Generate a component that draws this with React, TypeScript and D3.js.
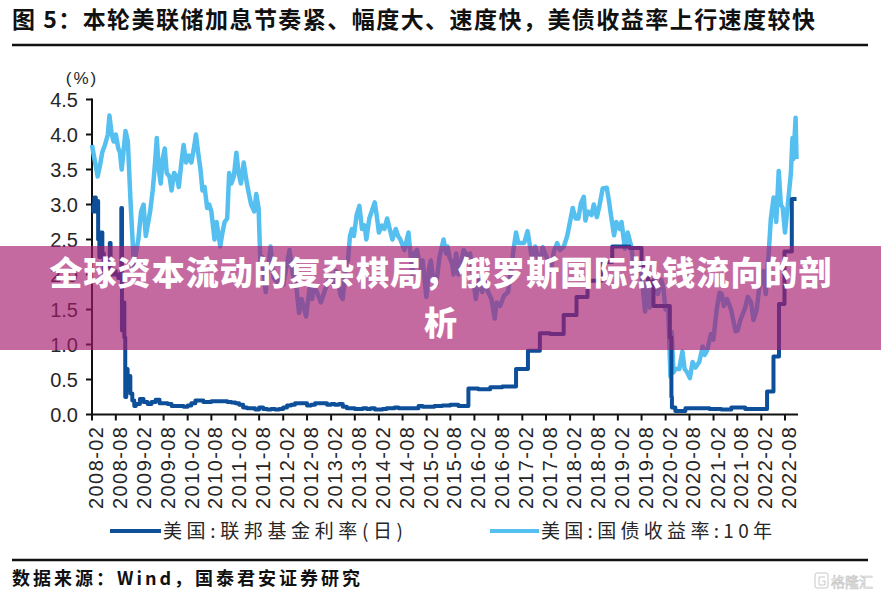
import React from "react";
import * as d3 from "d3";

const W = 881;
const H = 596;

const titleText = "图 5：本轮美联储加息节奏紧、幅度大、速度快，美债收益率上行速度较快";
const sourceText = "数据来源：Wind，国泰君安证券研究";
const bannerLine1 = "全球资本流动的复杂棋局，俄罗斯国际热钱流向的剖";
const bannerLine2 = "析";
const seriesNames = ["美国:联邦基金利率(日)", "美国:国债收益率:10年"];
const yTicks = [0, 0.5, 1, 1.5, 2, 2.5, 3, 3.5, 4, 4.5];
const xTickLabels = [
  "2008-02", "2008-08", "2009-02", "2009-08", "2010-02", "2010-08",
  "2011-02", "2011-08", "2012-02", "2012-08", "2013-02", "2013-08",
  "2014-02", "2014-08", "2015-02", "2015-08", "2016-02", "2016-08",
  "2017-02", "2017-08", "2018-02", "2018-08", "2019-02", "2019-08",
  "2020-02", "2020-08", "2021-02", "2021-08", "2022-02", "2022-08",
];

// Fed funds (daily effective), change points
const fedEarlyDates = [
  "2008-02-01", "2008-02-12", "2008-02-20", "2008-03-01", "2008-03-10", "2008-03-19",
  "2008-03-28", "2008-04-08", "2008-04-20", "2008-05-01", "2008-05-20", "2008-06-05",
  "2008-06-16", "2008-06-22", "2008-07-15", "2008-08-01", "2008-08-20", "2008-09-01",
  "2008-09-12", "2008-09-17", "2008-09-25", "2008-10-05", "2008-10-12", "2008-10-20",
  "2008-10-30", "2008-11-10", "2008-11-20", "2008-12-05", "2008-12-20",
];
const fedEarlyRates = [
  3.0, 2.9, 3.1, 2.9, 3.05, 2.5,
  2.25, 2.6, 2.3, 2.0, 2.1, 2.0,
  2.45, 2.0, 2.05, 2.0, 1.95, 2.0,
  2.95, 1.2, 1.6, 1.1, 0.25, 0.65,
  0.35, 0.55, 0.3, 0.2, 0.12,
];
const fedLowStart = "2009-01-01";
const fedLowRates = [
  0.15, 0.22, 0.18, 0.15, 0.18, 0.21, 0.16, 0.16, 0.15, 0.12, 0.12, 0.12,
  0.11, 0.13, 0.16, 0.2, 0.2, 0.18, 0.18, 0.19, 0.19, 0.19, 0.19, 0.18,
  0.17, 0.16, 0.14, 0.1, 0.09, 0.09, 0.07, 0.1, 0.08, 0.07, 0.08, 0.07,
  0.08, 0.1, 0.13, 0.14, 0.16, 0.16, 0.16, 0.13, 0.14, 0.16, 0.16, 0.16,
  0.14, 0.15, 0.14, 0.15, 0.11, 0.09, 0.09, 0.08, 0.08, 0.09, 0.08, 0.09,
  0.07, 0.07, 0.08, 0.09, 0.09, 0.1, 0.09, 0.09, 0.09, 0.09, 0.09, 0.12,
  0.11, 0.11, 0.11, 0.12, 0.12, 0.13, 0.13, 0.14, 0.14, 0.12, 0.12,
];
const fedLateDates = [
  "2015-12-17", "2016-03-01", "2016-06-01", "2016-09-01", "2016-12-15", "2017-03-16",
  "2017-06-15", "2017-09-01", "2017-12-14", "2018-03-22", "2018-06-14", "2018-09-27",
  "2018-12-20", "2019-05-01", "2019-08-01", "2019-09-19", "2019-10-31", "2020-03-04",
  "2020-03-16", "2020-03-20", "2020-04-15", "2020-07-01", "2020-10-01", "2021-01-01",
  "2021-04-01", "2021-06-17", "2021-10-01", "2022-01-01", "2022-03-17", "2022-05-05",
  "2022-06-16", "2022-07-28", "2022-09-22", "2022-10-28",
];
const fedLateRates = [
  0.37, 0.36, 0.39, 0.4, 0.65, 0.91,
  1.16, 1.15, 1.42, 1.68, 1.91, 2.18,
  2.4, 2.38, 2.13, 1.9, 1.55, 1.1,
  0.25, 0.1, 0.05, 0.09, 0.09, 0.08,
  0.07, 0.1, 0.08, 0.08, 0.33, 0.83,
  1.58, 2.33, 3.08, 3.08,
];

// 10-year Treasury yield
const ustDates = [
  "2008-02-01", "2008-02-15", "2008-03-01", "2008-03-15", "2008-04-01", "2008-04-20", "2008-05-10", "2008-06-01", "2008-06-13", "2008-07-01",
  "2008-07-15", "2008-08-01", "2008-08-20", "2008-09-01", "2008-09-15", "2008-10-01", "2008-10-14", "2008-11-01", "2008-11-20", "2008-12-01",
  "2008-12-18", "2009-01-01", "2009-01-20", "2009-02-10", "2009-03-01", "2009-03-18", "2009-04-01", "2009-04-20", "2009-05-10", "2009-05-28",
  "2009-06-10", "2009-06-25", "2009-07-10", "2009-07-25", "2009-08-10", "2009-08-25", "2009-09-15", "2009-10-01", "2009-10-20", "2009-11-10",
  "2009-11-25", "2009-12-15", "2010-01-01", "2010-01-20", "2010-02-10", "2010-03-01", "2010-03-25", "2010-04-05", "2010-04-25", "2010-05-10",
  "2010-05-25", "2010-06-10", "2010-06-30", "2010-07-15", "2010-08-01", "2010-08-25", "2010-09-10", "2010-09-30", "2010-10-08", "2010-10-25",
  "2010-11-10", "2010-11-30", "2010-12-15", "2011-01-01", "2011-01-20", "2011-02-08", "2011-02-25", "2011-03-15", "2011-04-05", "2011-04-25",
  "2011-05-15", "2011-06-01", "2011-06-25", "2011-07-10", "2011-07-28", "2011-08-10", "2011-08-25", "2011-09-20", "2011-10-10", "2011-10-27",
  "2011-11-20", "2011-12-15", "2012-01-10", "2012-02-01", "2012-03-20", "2012-04-15", "2012-05-10", "2012-06-01", "2012-06-20", "2012-07-25",
  "2012-08-20", "2012-09-10", "2012-09-20", "2012-10-15", "2012-11-15", "2012-12-20", "2013-01-10", "2013-02-01", "2013-02-25", "2013-03-10",
  "2013-04-15", "2013-05-01", "2013-05-25", "2013-06-10", "2013-06-25", "2013-07-10", "2013-07-25", "2013-08-15", "2013-09-05", "2013-09-25",
  "2013-10-15", "2013-10-28", "2013-11-20", "2013-12-31", "2014-01-15", "2014-02-01", "2014-02-25", "2014-03-15", "2014-04-05", "2014-04-25",
  "2014-05-15", "2014-06-10", "2014-06-28", "2014-07-15", "2014-08-15", "2014-09-15", "2014-10-15", "2014-10-30", "2014-11-20", "2014-12-15",
  "2015-01-01", "2015-01-30", "2015-02-20", "2015-03-05", "2015-03-25", "2015-04-15", "2015-05-10", "2015-06-10", "2015-06-30", "2015-07-10",
  "2015-07-25", "2015-08-15", "2015-08-25", "2015-09-15", "2015-10-01", "2015-11-10", "2015-12-15", "2015-12-30", "2016-01-20", "2016-02-11",
  "2016-03-10", "2016-04-01", "2016-04-25", "2016-05-15", "2016-06-10", "2016-07-05", "2016-07-20", "2016-08-15", "2016-09-15", "2016-10-15",
  "2016-11-10", "2016-11-25", "2016-12-15", "2017-01-01", "2017-01-20", "2017-02-15", "2017-03-13", "2017-04-18", "2017-05-10", "2017-06-14",
  "2017-07-07", "2017-08-15", "2017-09-07", "2017-09-30", "2017-10-25", "2017-11-15", "2017-12-15", "2018-01-10", "2018-01-31", "2018-02-21",
  "2018-03-15", "2018-04-05", "2018-04-25", "2018-05-17", "2018-05-29", "2018-06-15", "2018-07-15", "2018-08-01", "2018-08-25", "2018-09-15",
  "2018-10-08", "2018-11-08", "2018-11-25", "2018-12-10", "2019-01-03", "2019-01-20", "2019-02-15", "2019-03-01", "2019-03-27", "2019-04-17",
  "2019-05-15", "2019-06-03", "2019-06-20", "2019-07-15", "2019-08-01", "2019-08-28", "2019-09-13", "2019-10-03", "2019-11-08", "2019-12-03",
  "2019-12-30", "2020-01-15", "2020-01-31", "2020-02-20", "2020-03-09", "2020-03-18", "2020-04-01", "2020-04-15", "2020-05-15", "2020-06-08",
  "2020-06-25", "2020-07-15", "2020-08-04", "2020-08-25", "2020-09-15", "2020-10-15", "2020-11-10", "2020-11-25", "2020-12-15", "2021-01-12",
  "2021-01-31", "2021-02-25", "2021-03-19", "2021-04-05", "2021-04-20", "2021-05-15", "2021-06-15", "2021-07-19", "2021-08-05", "2021-08-25",
  "2021-09-30", "2021-10-21", "2021-11-15", "2021-12-03", "2021-12-28", "2022-01-15", "2022-02-15", "2022-03-07", "2022-03-31", "2022-04-15",
  "2022-05-06", "2022-05-26", "2022-06-14", "2022-06-30", "2022-07-15", "2022-08-01", "2022-08-20", "2022-09-15", "2022-09-27", "2022-10-05",
  "2022-10-21", "2022-10-28",
];
const ustYield = [
  3.85, 3.7, 3.55, 3.4, 3.55, 3.75, 3.85, 4.0, 4.27, 4.0,
  3.9, 4.0, 3.8, 3.75, 3.5, 3.8, 4.05, 3.9, 3.1, 2.7,
  2.1, 2.3, 2.5, 2.9, 3.0, 2.55, 2.7, 2.9, 3.2, 3.6,
  3.95, 3.5, 3.3, 3.65, 3.8, 3.45, 3.4, 3.2, 3.45, 3.4,
  3.25, 3.6, 3.85, 3.6, 3.7, 3.6, 3.85, 4.0, 3.7, 3.5,
  3.2, 3.25, 2.95, 3.0, 2.9, 2.5, 2.75, 2.5, 2.4, 2.6,
  2.75, 2.8, 3.45, 3.3, 3.4, 3.74, 3.45, 3.3, 3.6, 3.35,
  3.15, 3.0, 2.9, 3.15, 2.95, 2.2, 2.25, 1.75, 2.1, 2.4,
  1.95, 1.9, 1.95, 1.85, 2.35, 2.0, 1.85, 1.45, 1.65, 1.4,
  1.8, 1.65, 1.85, 1.75, 1.6, 1.8, 1.9, 2.0, 1.85, 2.05,
  1.7, 1.65, 2.15, 2.2, 2.55, 2.65, 2.55, 2.85, 2.98, 2.65,
  2.7, 2.5, 2.8, 3.03, 2.85, 2.6, 2.7, 2.65, 2.8, 2.65,
  2.5, 2.65, 2.55, 2.5, 2.35, 2.6, 2.0, 2.3, 2.35, 2.1,
  2.2, 1.68, 2.1, 2.2, 1.9, 1.85, 2.25, 2.5, 2.3, 2.4,
  2.25, 2.15, 2.0, 2.3, 2.0, 2.35, 2.25, 2.3, 2.0, 1.65,
  1.95, 1.75, 1.9, 1.75, 1.65, 1.37, 1.6, 1.55, 1.7, 1.75,
  2.1, 2.35, 2.6, 2.45, 2.45, 2.45, 2.62, 2.2, 2.4, 2.15,
  2.39, 2.2, 2.05, 2.33, 2.45, 2.35, 2.4, 2.55, 2.75, 2.95,
  2.8, 2.8, 3.02, 3.11, 2.77, 2.9, 2.85, 3.0, 2.82, 3.0,
  3.23, 3.24, 3.05, 2.85, 2.56, 2.75, 2.65, 2.75, 2.37, 2.6,
  2.4, 2.08, 2.0, 2.1, 2.0, 1.47, 1.9, 1.53, 1.94, 1.72,
  1.92, 1.8, 1.5, 1.52, 0.54, 1.18, 0.6, 0.65, 0.65, 0.9,
  0.65, 0.6, 0.52, 0.75, 0.67, 0.75, 0.97, 0.85, 0.92, 1.15,
  1.07, 1.5, 1.74, 1.72, 1.55, 1.65, 1.5, 1.19, 1.2, 1.35,
  1.52, 1.68, 1.6, 1.35, 1.5, 1.8, 2.05, 1.72, 2.35, 2.8,
  3.1, 2.75, 3.48, 3.0, 2.95, 2.6, 2.95, 3.45, 3.95, 3.65,
  4.24, 3.65,
];

const colors = { fed: "#0e4f9a", ust: "#55bff0", axis: "#111", text: "#262626" };

const parse = d3.timeParse("%Y-%m-%d");
const parseMonth = d3.timeParse("%Y-%m");

type Pt = { d: Date; v: number };

function buildFed(): Pt[] {
  const pts: Pt[] = fedEarlyDates.map((s, i) => ({ d: parse(s)!, v: fedEarlyRates[i] }));
  const start = parse(fedLowStart)!;
  fedLowRates.forEach((v, i) => pts.push({ d: d3.timeMonth.offset(start, i), v }));
  fedLateDates.forEach((s, i) => pts.push({ d: parse(s)!, v: fedLateRates[i] }));
  return pts;
}

export default function App() {
  const x = d3.scaleTime()
    .domain([parseMonth("2008-02")!, parseMonth("2022-08")!])
    .range([92, 785]);
  const y = d3.scaleLinear().domain([0, 4.5]).range([414.5, 99.5]);

  const fed = buildFed();
  const ust: Pt[] = ustDates.map((s, i) => ({ d: parse(s)!, v: ustYield[i] }));

  const fedLine = d3.line<Pt>().x((p) => x(p.d)).y((p) => y(p.v)).curve(d3.curveStepAfter);
  const ustLine = d3.line<Pt>().x((p) => x(p.d)).y((p) => y(p.v)).curve(d3.curveLinear);

  const axisY = y(0);
  const axisRight = 798;
  const numFont = "'Liberation Sans', Arial, sans-serif";
  const cjkFont = "'Noto Sans CJK SC', 'Noto Sans', sans-serif";

  return (
    <svg width={W} height={H} viewBox={`0 0 ${W} ${H}`}
      style={{ position: "absolute", left: 0, top: 0, background: "#fff" }}>
      <rect x={0} y={0} width={W} height={H} fill="#fff" />
      {/* title */}
      <text x={12} y={28} fontFamily={cjkFont} fontWeight={700} fontSize={23} fill="#111"
        textLength={803} lengthAdjust="spacing">{titleText}</text>
      <line x1={12} x2={868} y1={45} y2={45} stroke="#111" strokeWidth={2.5} />

      {/* unit */}
      <text x={82} y={84} fontFamily={numFont} fontSize={17} fill={colors.text} textAnchor="middle"
        letterSpacing={2}>(%)</text>

      {/* y axis */}
      <line x1={92} x2={92} y1={y(4.5) - 1} y2={axisY} stroke={colors.axis} strokeWidth={2} />
      {yTicks.map((t) => (
        <g key={t}>
          <line x1={86} x2={92} y1={y(t)} y2={y(t)} stroke={colors.axis} strokeWidth={2} />
          <text x={78} y={y(t)} dy="0.36em" textAnchor="end" fontFamily={numFont} fontSize={20}
            fill={colors.text}>{t.toFixed(1)}</text>
        </g>
      ))}

      {/* x axis */}
      <line x1={91} x2={axisRight} y1={axisY} y2={axisY} stroke={colors.axis} strokeWidth={2} />
      {xTickLabels.map((lab) => {
        const tx = x(parseMonth(lab)!);
        return (
          <g key={lab}>
            <line x1={tx} x2={tx} y1={axisY} y2={axisY + 6} stroke={colors.axis} strokeWidth={2} />
            <text transform={`translate(${tx + 11},${427}) rotate(-90)`} textAnchor="end"
              fontFamily={numFont} fontSize={20} fill={colors.text}
              textLength={82} lengthAdjust="spacing">{lab}</text>
          </g>
        );
      })}

      {/* series */}
      <path d={ustLine(ust)!} fill="none" stroke={colors.ust} strokeWidth={4.5} strokeLinejoin="round" />
      <path d={fedLine(fed)!} fill="none" stroke={colors.fed} strokeWidth={4} strokeLinejoin="round" />

      {/* legend */}
      <line x1={110} x2={161} y1={531} y2={531} stroke={colors.fed} strokeWidth={4} />
      <text x={163} y={538} fontFamily={cjkFont} fontSize={19} fill={colors.text}
        textLength={240} lengthAdjust="spacing">{seriesNames[0]}</text>
      <line x1={490} x2={539} y1={531} y2={531} stroke={colors.ust} strokeWidth={4} />
      <text x={541} y={538} fontFamily={cjkFont} fontSize={19} fill={colors.text}
        textLength={231} lengthAdjust="spacing">{seriesNames[1]}</text>

      {/* source */}
      <line x1={12} x2={868} y1={560} y2={560} stroke="#111" strokeWidth={2.5} />
      <text x={12} y={585} fontFamily={cjkFont} fontWeight={700} fontSize={18} fill="#111"
        textLength={348} lengthAdjust="spacing">{sourceText}</text>

      {/* watermark */}
      <g fill="none" stroke="#c8c8c8" strokeWidth={1}>
        <rect x={815} y={573} width={13} height={15} rx={2} />
        <path d="M825 577 H819 V585 H825 V581 H822" />
      </g>
      <text x={831} y={587} fontFamily={cjkFont} fontSize={14} fill="#fff" stroke="#c8c8c8"
        strokeWidth={0.7}>格隆汇</text>

      {/* banner overlay */}
      <rect x={0} y={246} width={W} height={104} fill="rgba(166,26,109,0.65)" />
      <text x={440.5} y={285} textAnchor="middle" fontFamily={cjkFont} fontWeight={900} fontSize={33}
        fill="#fff" textLength={782} lengthAdjust="spacing">{bannerLine1}</text>
      <text x={440.5} y={335} textAnchor="middle" fontFamily={cjkFont} fontWeight={900} fontSize={33}
        fill="#fff">{bannerLine2}</text>
    </svg>
  );
}
